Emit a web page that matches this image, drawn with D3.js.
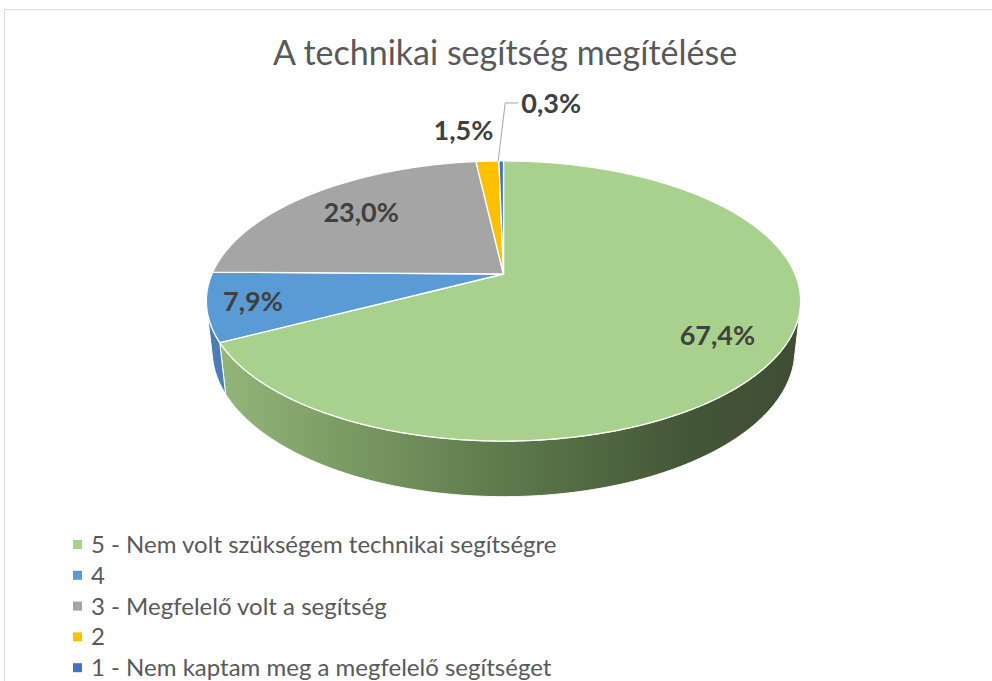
<!DOCTYPE html>
<html>
<head>
<meta charset="utf-8">
<script src="https://cdn.jsdelivr.net/npm/d3@7"></script>
<style>
  body { margin: 0; background: #fff; }
  svg { display: block; font-family: Lato, "Open Sans", sans-serif; }
</style>
</head>
<body>
<div id="grafikon"></div>
<script>
// Adatok
const categories = [
  "5 - Nem volt szükségem technikai segítségre",
  "4",
  "3 - Megfelelő volt a segítség",
  "2",
  "1 - Nem kaptam meg a megfelelő segítséget"
];
const values = [67.4, 7.9, 23.0, 1.5, 0.3];
const valueLabels = ["67,4%", "7,9%", "23,0%", "1,5%", "0,3%"];
const colors = ["#A9D18E", "#5B9BD5", "#A5A5A5", "#FFC000", "#4472C4"];

const width = 992, height = 681;

const svg = d3.select("#grafikon")
  .append("svg")
  .attr("width", width)
  .attr("height", height);

// keret
svg.append("rect")
  .attr("x", 4.5).attr("y", 9.5)
  .attr("width", 1100).attr("height", 800)
  .attr("fill", "none")
  .attr("stroke", "#d9d9d9");

// cím
svg.append("text")
  .attr("x", 505).attr("y", 65)
  .attr("text-anchor", "middle")
  .attr("fill", "#595959")
  .attr("font-size", "34px")
  .text("A technikai segítség megítélése");

// perspektivikus vetítés (egységsugarú korong, h vastagság)
const cam = { cx: 503.5, cy: 274, f: 1340, D: 4.596, s: 0.4625, c: 0.8866, h: 0.19 };
function proj(theta, r, y) {
  const x = r * Math.sin(theta), z = r * Math.cos(theta);
  const depth = cam.D + z * cam.c - y * cam.s;
  return [cam.cx + cam.f * x / depth, cam.cy - cam.f * (y * cam.c + z * cam.s) / depth];
}
function rim(a0, a1, r, y) {
  const n = Math.max(2, Math.ceil(Math.abs(a1 - a0) / 0.008));
  return d3.range(n + 1).map(i => proj(a0 + (a1 - a0) * i / n, r, y));
}

const pie = d3.pie().sort(null).value(d => d)(values);
const line = d3.line();

// látható oldalfal tartománya (érintési pontok)
const tz = -1 / (cam.D * cam.c);
const wallFrom = Math.acos(tz), wallTo = 2 * Math.PI - Math.acos(tz);

// színátmenet a zöld oldalfalhoz
const defs = svg.append("defs");
const xLeft = proj(-Math.PI / 2 - 0.2, 1, 0)[0], xRight = proj(Math.PI / 2 + 0.2, 1, 0)[0];
const grad = defs.append("linearGradient")
  .attr("id", "falZold")
  .attr("gradientUnits", "userSpaceOnUse")
  .attr("x1", xLeft).attr("x2", xRight).attr("y1", 0).attr("y2", 0);
[[0, "#96b87c"], [0.45, "#62804f"], [0.82, "#435537"], [1, "#3e4e34"]].forEach(([o, col]) =>
  grad.append("stop").attr("offset", o).attr("stop-color", col));
const wallColors = ["url(#falZold)", "#4a7db3", "#7f7f7f", "#bf9000", "#335a9c"];

const gWalls = svg.append("g");
pie.forEach((d, i) => {
  const a0 = Math.max(d.startAngle, wallFrom), a1 = Math.min(d.endAngle, wallTo);
  if (a1 <= a0) return;
  const pts = rim(a0, a1, 1, 0).concat(rim(a1, a0, 1, -cam.h));
  gWalls.append("path")
    .attr("d", line(pts) + "Z")
    .attr("fill", wallColors[i])
    .attr("stroke", "#fff")
    .attr("stroke-width", 1)
    .attr("stroke-linejoin", "round");
});

// felső lapok
const gTop = svg.append("g");
pie.forEach((d, i) => {
  const pts = [proj(0, 0, 0)].concat(rim(d.startAngle, d.endAngle, 1, 0));
  gTop.append("path")
    .attr("d", line(pts) + "Z")
    .attr("fill", colors[i])
    .attr("stroke", "#fff")
    .attr("stroke-width", 1.3)
    .attr("stroke-linejoin", "round");
});

// címkék: belső sugár arány, vagy külső eltolás pixelben
const labelLayout = [
  { r: 0.8, dx: -3, dy: 10 },
  { r: 0.85, dy: 9 },
  { r: 0.72, dy: 8 },
  { r: 1, dx: -24, dy: -21 },
  { r: 1, dx: 50, dy: -48, leader: true }
];
const gLab = svg.append("g")
  .attr("font-size", "27px")
  .attr("font-weight", "bold")
  .attr("fill", "#404040")
  .attr("text-anchor", "middle");

pie.forEach((d, i) => {
  const L = labelLayout[i];
  const mid = (d.startAngle + d.endAngle) / 2;
  const [px, py] = proj(mid, L.r, 0);
  const x = px + (L.dx || 0), y = py + (L.dy || 0);
  if (L.leader) {
    const [ex, ey] = proj(mid, 1, 0);
    svg.append("polyline")
      .attr("points", [[ex - 3, ey], [ex + 4, y - 10], [x - 33, y - 10]].map(p => p.join(",")).join(" "))
      .attr("fill", "none")
      .attr("stroke", "#a6a6a6")
      .attr("stroke-width", 1);
  }
  gLab.append("text")
    .attr("x", x).attr("y", y)
    .text(valueLabels[i]);
});

// jelmagyarázat
const legend = svg.append("g")
  .attr("transform", "translate(73,545)");
const rows = legend.selectAll("g")
  .data(categories)
  .enter()
  .append("g")
  .attr("transform", (d, i) => `translate(0,${i * 30.8})`);
rows.append("rect")
  .attr("x", 0).attr("y", -5)
  .attr("width", 9).attr("height", 9)
  .attr("fill", (d, i) => colors[i]);
rows.append("text")
  .attr("x", 18).attr("y", 8)
  .attr("fill", "#595959")
  .attr("font-size", "24px")
  .text(d => d);
</script>
</body>
</html>
